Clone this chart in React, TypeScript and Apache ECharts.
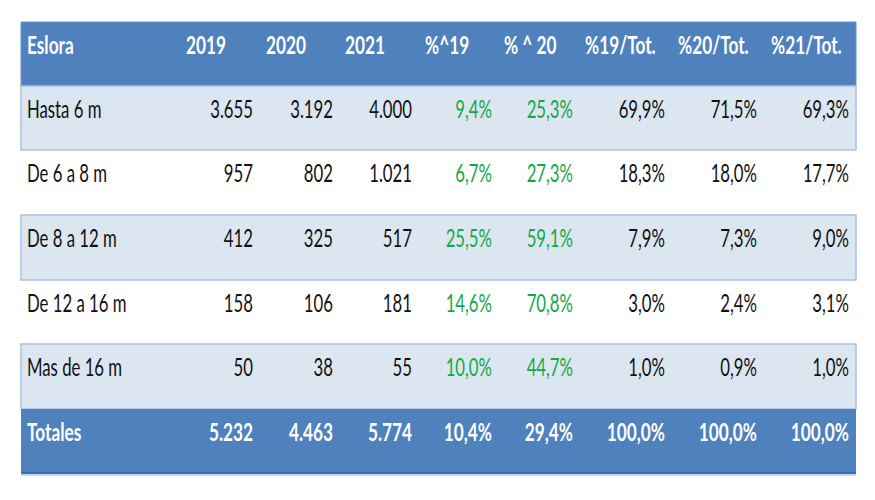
import React, { useEffect, useRef } from "react";
import * as echarts from "echarts";

const headers = ["Eslora", "2019", "2020", "2021", "%^19", "% ^ 20", "%19/Tot.", "%20/Tot.", "%21/Tot."];
const categories = ["Hasta 6 m", "De 6 a 8 m", "De 8 a 12 m", "De 12 a 16 m", "Mas de 16 m"];
const totalLabel = "Totales";
const v2019 = [3655, 957, 412, 158, 50];
const v2020 = [3192, 802, 325, 106, 38];
const v2021 = [4000, 1021, 517, 181, 55];
const pct19 = [9.4, 6.7, 25.5, 14.6, 10.0];
const pct20 = [25.3, 27.3, 59.1, 70.8, 44.7];
const share19 = [69.9, 18.3, 7.9, 3.0, 1.0];
const share20 = [71.5, 18.0, 7.3, 2.4, 0.9];
const share21 = [69.3, 17.7, 9.0, 3.1, 1.0];
const totalsCounts = [5232, 4463, 5774];
const totalsPct = [10.4, 29.4, 100.0, 100.0, 100.0];

const fmtInt = (n: number) => String(n).replace(/\B(?=(\d{3})+(?!\d))/g, ".");
const fmtPct = (n: number) => n.toFixed(1).replace(".", ",") + "%";

const FONT = "Lato, 'Liberation Sans', sans-serif";

export default function App() {
  const ref = useRef<HTMLDivElement>(null);
  useEffect(() => {
    document.body.style.margin = "0";
    if (!ref.current) return;
    const chart = echarts.init(ref.current, null, { renderer: "svg" });

    const left = 21;
    const right = 856;
    const rowTops = [22, 86, 150, 215, 280, 344, 409];
    const bottom = 473;
    const headerX = [27, 186, 266, 345, 425, 504, 585, 678, 771];
    const valueRight = [253, 333, 412, 492, 573, 665, 757, 849];
    const fs = 25;
    const sxReg = 0.67;
    const sxBold = 0.69;
    const blue = "#4f81bd";
    const light = "#dce6f1";
    const green = "#14a84a";

    const els: any[] = [];
    const txt = (x: number, y: number, text: string, align: string, color: string, bold: boolean) => {
      els.push({
        type: "text",
        x,
        y,
        scaleX: bold ? sxBold : sxReg,
        z: 10,
        style: {
          x: 0,
          y: 0,
          text,
          align,
          verticalAlign: "middle",
          textAlign: align,
          textVerticalAlign: "middle",
          fill: color,
          font: `${bold ? "bold " : ""}${fs}px ${FONT}`,
        },
      });
    };

    els.push({ type: "rect", shape: { x: left, y: rowTops[0], width: right - left, height: rowTops[1] - rowTops[0] }, style: { fill: blue, stroke: "#6a95c9", lineWidth: 1 } });
    for (let i = 0; i < categories.length; i++) {
      const top = rowTops[i + 1];
      const h = rowTops[i + 2] - top;
      if (i % 2 === 0) {
        els.push({ type: "rect", shape: { x: left, y: top, width: right - left, height: h }, style: { fill: light, stroke: "#a9c1e0", lineWidth: 1.5 } });
      }
    }
    els.push({ type: "rect", shape: { x: left, y: rowTops[6], width: right - left, height: bottom - rowTops[6] }, style: { fill: blue } });
    els.push({ type: "line", shape: { x1: left, y1: bottom, x2: right, y2: bottom }, style: { stroke: "#3a6db3", lineWidth: 2 } });
    els.push({ type: "line", shape: { x1: left, y1: bottom + 2, x2: right, y2: bottom + 2 }, style: { stroke: "#b7cbe6", lineWidth: 1.5 } });

    headers.forEach((h, j) => txt(headerX[j], rowTops[0] + 23, h, "left", "#ffffff", true));

    categories.forEach((c, i) => {
      const y = rowTops[i + 1] + 23;
      txt(headerX[0], y, c, "left", "#111111", false);
      const vals = [fmtInt(v2019[i]), fmtInt(v2020[i]), fmtInt(v2021[i]), fmtPct(pct19[i]), fmtPct(pct20[i]), fmtPct(share19[i]), fmtPct(share20[i]), fmtPct(share21[i])];
      vals.forEach((v, j) => txt(valueRight[j], y, v, "right", j === 3 || j === 4 ? green : "#111111", false));
    });

    const ty = rowTops[6] + 23;
    txt(headerX[0], ty, totalLabel, "left", "#ffffff", true);
    const tvals = [...totalsCounts.map(fmtInt), ...totalsPct.map(fmtPct)];
    tvals.forEach((v, j) => txt(valueRight[j], ty, v, "right", "#ffffff", true));

    chart.setOption({
      animation: false,
      backgroundColor: "#ffffff",
      graphic: { elements: els },
    });
    return () => chart.dispose();
  }, []);
  return <div ref={ref} style={{ width: 875, height: 500 }} />;
}
